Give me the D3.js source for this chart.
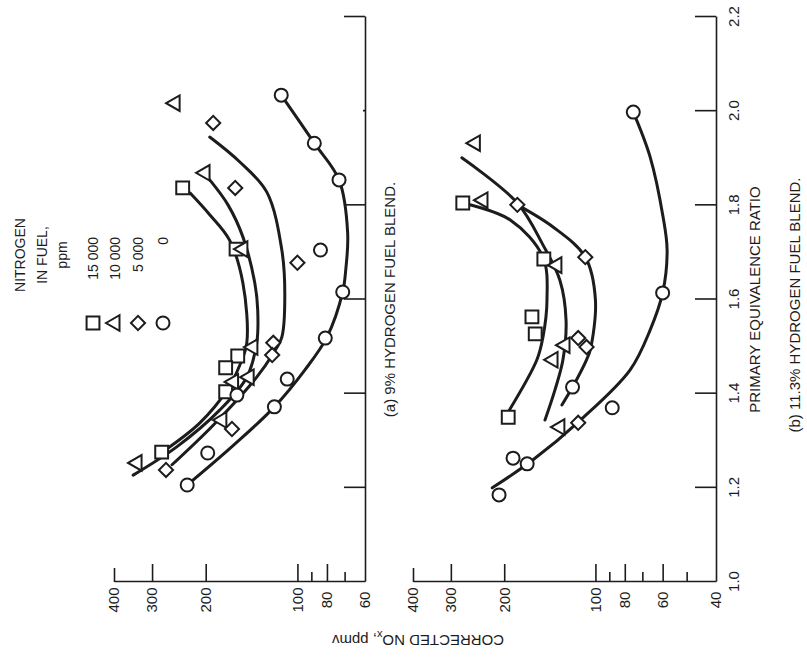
<!DOCTYPE html>
<html>
<head>
<meta charset="utf-8">
<script src="https://cdn.jsdelivr.net/npm/d3@7"></script>
<style>
  body { margin: 0; background: #fff; }
  text { font-family: "Liberation Sans", Arial, sans-serif; fill: #1c1c1c; }
</style>
</head>
<body>
<svg id="chart" width="807" height="667"></svg>
<script>
// legend entries: nitrogen in fuel, ppm
let nitrogenLevels = ["15 000", "10 000", "5 000", "0"];

// panel (a) 9% hydrogen blend -- measured points [equivalence ratio, NOx ppmv]
let aPts15000 = [[1.837, 238], [1.707, 159], [1.480, 157], [1.455, 172], [1.404, 172], [1.276, 279]];
let aPts10000 = [[2.017, 252], [1.869, 201], [1.707, 151], [1.499, 140], [1.435, 144], [1.425, 162], [1.344, 177], [1.253, 336]];
let aPts5000 = [[1.975, 189], [1.837, 160], [1.678, 100], [1.508, 120], [1.482, 121], [1.325, 164], [1.238, 270]];
let aPts0 = [[2.034, 113], [1.932, 88], [1.854, 73], [1.705, 84], [1.616, 71], [1.518, 81], [1.431, 108], [1.397, 158], [1.372, 119], [1.274, 197], [1.206, 230]];

// panel (a) faired curves
let aFit15000 = [[1.826, 225], [1.780, 194], [1.726, 167], [1.635, 151], [1.508, 146.6], [1.461, 154.5], [1.408, 170], [1.338, 209], [1.280, 272]];
let aFit10000 = [[1.854, 194], [1.801, 169], [1.733, 151], [1.635, 138], [1.578, 135], [1.508, 136], [1.435, 146.6], [1.365, 180], [1.287, 249], [1.227, 346]];
let aFit5000 = [[1.945, 194], [1.892, 154.5], [1.828, 126], [1.705, 112.5], [1.610, 110], [1.520, 112.5], [1.486, 120], [1.435, 136], [1.333, 189], [1.249, 258]];
let aFit0 = [[2.034, 113], [1.932, 88], [1.854, 73], [1.741, 68.4], [1.663, 69.4], [1.616, 71], [1.520, 80], [1.450, 94.6], [1.372, 119], [1.289, 163], [1.206, 230]];

// panel (b) 11.3% hydrogen blend -- measured points
let bPts15000 = [[1.805, 274], [1.686, 148], [1.563, 162], [1.527, 158], [1.350, 194]];
let bPts10000 = [[1.932, 249], [1.811, 235], [1.673, 134], [1.503, 126], [1.472, 138], [1.329, 131]];
let bPts5000 = [[1.801, 181], [1.690, 108], [1.518, 114], [1.499, 107], [1.338, 114]];
let bPts0 = [[1.998, 75], [1.614, 60], [1.414, 119], [1.370, 88], [1.263, 187], [1.251, 168], [1.185, 208]];

// panel (b) faired curves
let bFit15000 = [[1.805, 274], [1.769, 191], [1.690, 149], [1.599, 144.5], [1.520, 149], [1.472, 156], [1.361, 194]];
let bFit10000 = [[1.901, 276], [1.805, 181], [1.716, 149], [1.641, 131], [1.556, 125], [1.472, 128], [1.408, 136], [1.344, 146.7]];
let bFit5000 = [[1.801, 181], [1.754, 138], [1.690, 108], [1.599, 100], [1.493, 104], [1.472, 107], [1.414, 119], [1.376, 129]];
let bFit0 = [[1.998, 75], [1.903, 66], [1.775, 59.8], [1.705, 58], [1.614, 60], [1.535, 66], [1.450, 76.9], [1.344, 112], [1.259, 161], [1.200, 219]];

// axis ticks
let ratioTicks = [1.0, 1.2, 1.4, 1.6, 1.8, 2.0, 2.2];
let aNoxTicks = [400, 300, 200, 100, 90, 80, 70, 60];
let aNoxLabels = [400, 300, 200, 100, 80, 60];
let bNoxTicks = [400, 300, 200, 100, 90, 80, 70, 60, 50, 40];
let bNoxLabels = [400, 300, 200, 100, 80, 60, 40];

let ink = "#1c1c1c";

// the figure is printed turned a quarter turn, so everything is drawn upright
// in a 667 x 807 frame and then rotated
let svg = d3.select("#chart");
let g = svg.append("g").attr("transform", "translate(0,667) rotate(-90)");

let x = d3.scaleLinear().domain([1.0, 2.2]).range([85, 650]);
let yA = d3.scaleLog().domain([60, 400]).range([365, 114]);
let yB = d3.scaleLog().domain([40, 400]).range([716, 413]);

function noxTickLen(d, labels) {
  if (d === 400) return 14;
  return labels.includes(d) ? 18 : 10;
}

function drawNoxAxis(scale, ticks, labels) {
  let ax = g.append("g")
    .attr("transform", "translate(" + x(1.0) + ",0)")
    .call(d3.axisLeft(scale).tickValues(ticks).tickSizeOuter(0).tickSizeInner(0)
      .tickFormat(d => labels.includes(d) ? d : ""));
  ax.select(".domain").attr("stroke", ink).attr("stroke-width", 1.6);
  ax.selectAll(".tick line").attr("stroke", ink).attr("stroke-width", 1.6)
    .attr("x2", d => (scale.domain()[0] === d ? 0 : noxTickLen(d, labels)));
  ax.selectAll(".tick text").attr("x", -18).attr("text-anchor", "middle")
    .style("font-size", "15px");
}

function drawRatioAxis(yPos, withLabels, skipTwo) {
  let ax = g.append("g")
    .attr("transform", "translate(0," + yPos + ")")
    .call(d3.axisBottom(x).tickValues(ratioTicks).tickSizeOuter(0).tickSizeInner(0).tickPadding(12)
      .tickFormat(d => withLabels ? d3.format(".1f")(d) : ""));
  ax.select(".domain").attr("stroke", ink).attr("stroke-width", 1.6);
  ax.selectAll(".tick line").attr("stroke", ink).attr("stroke-width", 1.6)
    .attr("y2", d => {
      if (d === 1.0) return 0;
      if (skipTwo && d === 2.0) return -2;
      return -21;
    });
  ax.selectAll(".tick text").style("font-size", "15px");
}

drawNoxAxis(yA, aNoxTicks, aNoxLabels);
drawRatioAxis(yA(60), false, true);
drawNoxAxis(yB, bNoxTicks, bNoxLabels);
drawRatioAxis(yB(40), true, false);

// symbols: square, triangle, diamond, circle
let symbols = [
  { type: d3.symbolSquare, size: 165, rot: 0 },
  { type: d3.symbolTriangle, size: 105, rot: 0 },
  { type: d3.symbolSquare, size: 100, rot: 45 },
  { type: d3.symbolCircle, size: 133, rot: 0 }
];

function symbolPath(i) {
  return d3.symbol().type(symbols[i].type).size(symbols[i].size)();
}

function drawPanel(yScale, fits, sets) {
  let line = d3.line()
    .x(d => x(d[0]))
    .y(d => yScale(d[1]))
    .curve(d3.curveCatmullRom.alpha(0.5));

  g.append("g").selectAll("path")
    .data(fits)
    .join("path")
    .attr("d", line)
    .attr("fill", "none")
    .attr("stroke", ink)
    .attr("stroke-width", 3)
    .attr("stroke-linecap", "round");

  sets.forEach((pts, i) => {
    g.append("g").selectAll("path")
      .data(pts)
      .join("path")
      .attr("transform", d => "translate(" + x(d[0]) + "," + yScale(d[1]) + ") rotate(" + symbols[i].rot + ")")
      .attr("d", symbolPath(i))
      .attr("fill", "#fff")
      .attr("stroke", ink)
      .attr("stroke-width", 2);
  });
}

drawPanel(yA, [aFit15000, aFit10000, aFit5000, aFit0], [aPts15000, aPts10000, aPts5000, aPts0]);
drawPanel(yB, [bFit15000, bFit10000, bFit5000, bFit0], [bPts15000, bPts10000, bPts5000, bPts0]);

// panel captions and axis titles
g.append("text")
  .attr("x", x(1.6)).attr("y", 395)
  .attr("text-anchor", "middle").style("font-size", "15px")
  .text("(a) 9% HYDROGEN FUEL BLEND.");

g.append("text")
  .attr("x", x(1.6)).attr("y", 760)
  .attr("text-anchor", "middle").style("font-size", "15px")
  .text("PRIMARY EQUIVALENCE RATIO");

g.append("text")
  .attr("x", 362).attr("y", 800)
  .attr("text-anchor", "middle").style("font-size", "15px")
  .text("(b) 11.3% HYDROGEN FUEL BLEND.");

let yTitle = g.append("text")
  .attr("transform", "translate(32,418) rotate(-90)")
  .attr("text-anchor", "middle").style("font-size", "15px");
yTitle.append("tspan").text("CORRECTED NO");
yTitle.append("tspan").attr("dy", 4).style("font-size", "11px").text("x");
yTitle.append("tspan").attr("dy", -4).text(", ppmv");

// legend
let legendTitle = ["NITROGEN", "IN FUEL,", "ppm"];
let legendTitleY = [25, 47, 67];
g.append("g").selectAll("text")
  .data(legendTitle)
  .join("text")
  .attr("x", 412)
  .attr("y", (d, i) => legendTitleY[i])
  .attr("text-anchor", "middle")
  .style("font-size", "14px")
  .text(d => d);

let legendRowY = [93, 115, 138, 163];
let legend = g.append("g").selectAll("g")
  .data(nitrogenLevels)
  .join("g")
  .attr("transform", (d, i) => "translate(0," + legendRowY[i] + ")");

legend.append("path")
  .attr("transform", (d, i) => "translate(344,0) rotate(" + symbols[i].rot + ")")
  .attr("d", (d, i) => symbolPath(i))
  .attr("fill", "#fff")
  .attr("stroke", ink)
  .attr("stroke-width", 2);

legend.append("text")
  .attr("x", 430).attr("y", 5)
  .attr("text-anchor", "end")
  .style("font-size", "14px")
  .text(d => d);
</script>
</body>
</html>
